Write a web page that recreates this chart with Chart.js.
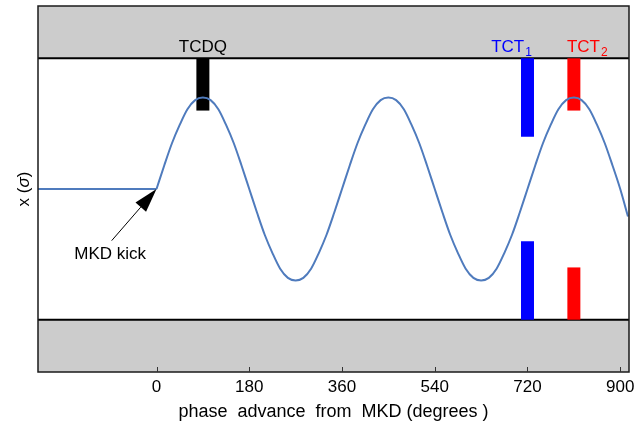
<!DOCTYPE html>
<html>
<head>
<meta charset="utf-8">
<title>Beam orbit after MKD kick</title>
<script src="https://cdn.jsdelivr.net/npm/chart.js@4.4.1/dist/chart.umd.min.js"></script>
<style>
    html, body { margin: 0; padding: 0; background: #fff; }
    #wrap { width: 644px; height: 423px; }
</style>
</head>
<body>
<div id="wrap"><canvas id="orbitChart" width="644" height="423"></canvas></div>
<script>
// Data
const xTicks = [0, 180, 360, 540, 720, 900];
const xRange = [-230, 917];
const yRange = [-14, 14];

// flat orbit before the kick
const flatPhase = [-230, 0];
const flatOrbit = [0, 0];

// oscillation after the kick (degrees, sigma)
const phase = [
    0, 15, 30, 45, 60, 75, 90, 105, 120, 135, 150, 165,
    180, 195, 210, 225, 240, 255, 270, 285, 300, 315, 330, 345,
    360, 375, 390, 405, 420, 435, 450, 465, 480, 495, 510, 525,
    540, 555, 570, 585, 600, 615, 630, 645, 660, 675, 690, 705,
    720, 735, 750, 765, 780, 795, 810, 825, 840, 855, 870, 885,
    900, 915
];
const orbit = [
    0, 1.8, 3.5, 4.9, 6.1, 6.8, 7.0, 6.8, 6.1, 4.9, 3.5, 1.8,
    0, -1.8, -3.5, -4.9, -6.1, -6.8, -7.0, -6.8, -6.1, -4.9, -3.5, -1.8,
    0, 1.8, 3.5, 4.9, 6.1, 6.8, 7.0, 6.8, 6.1, 4.9, 3.5, 1.8,
    0, -1.8, -3.5, -4.9, -6.1, -6.8, -7.0, -6.8, -6.1, -4.9, -3.5, -1.8,
    0, 1.8, 3.5, 4.9, 6.1, 6.8, 7.0, 6.8, 6.1, 4.9, 3.5, 1.8,
    0, -2.1
];

// aperture (gray bands)
const jawHalfGap = 10;

// collimators
const collNames = ['TCDQ', 'TCT', 'TCT'];
const collSubs = ['', '1', '2'];
const collPhase = [90, 720, 810];
const collUpper = [[6, 10], [4, 10], [6, 10]];
const collLower = [null, [-10, -4], [-10, -6]];
const collLabelPhase = [90, 689, 836];
const collLabelY = 10.5;

// MKD kick annotation
const kickTip = [0, 0];
const kickTail = [-87, -3.95];
const kickText = 'MKD kick';
const kickTextPos = [-90, -5.0];

const xTitle = 'phase  advance  from  MKD (degrees )';

// Styles
const FONT = '"Liberation Sans", Arial, Helvetica, sans-serif';
const orbitColor = '#4f7bbd';
const collColors = ['#000000', '#0000ff', '#ff0000'];
const bandColor = '#cccccc';

function toPoints(xs, ys) {
    return xs.map((v, i) => ({ x: v, y: ys[i] }));
}

function buildDatasets() {
    const sets = [];
    sets.push({
        label: 'orbit',
        data: toPoints(phase, orbit),
        borderColor: orbitColor,
        borderWidth: 2,
        pointRadius: 0,
        cubicInterpolationMode: 'monotone',
        fill: false
    });
    sets.push({
        label: 'orbit before kick',
        data: toPoints(flatPhase, flatOrbit),
        borderColor: orbitColor,
        borderWidth: 2,
        pointRadius: 0,
        fill: false
    });
    collNames.forEach((name, i) => {
        [collUpper[i], collLower[i]].forEach(span => {
            if (!span) return;
            sets.push({
                label: name + collSubs[i],
                data: [{ x: collPhase[i], y: span[0] }, { x: collPhase[i], y: span[1] }],
                borderColor: collColors[i],
                borderWidth: 13,
                borderCapStyle: 'butt',
                pointRadius: 0,
                fill: false
            });
        });
    });
    sets.push({
        label: 'upper jaw',
        data: [{ x: xRange[0], y: jawHalfGap }, { x: xRange[1], y: jawHalfGap }],
        borderColor: '#000',
        borderWidth: 2,
        backgroundColor: bandColor,
        pointRadius: 0,
        fill: 'end'
    });
    sets.push({
        label: 'lower jaw',
        data: [{ x: xRange[0], y: -jawHalfGap }, { x: xRange[1], y: -jawHalfGap }],
        borderColor: '#000',
        borderWidth: 2,
        backgroundColor: bandColor,
        pointRadius: 0,
        fill: 'start'
    });
    return sets;
}

// frame, inward ticks, labels, arrow and y title
const overlay = {
    id: 'overlay',
    afterDatasetsDraw(chart) {
        const { ctx, chartArea: a, scales: { x, y } } = chart;
        ctx.save();

        // frame
        ctx.strokeStyle = '#1a1a1a';
        ctx.lineWidth = 1.5;
        ctx.strokeRect(a.left, a.top, a.right - a.left, a.bottom - a.top);

        // tick marks pointing inward
        ctx.lineWidth = 1;
        ctx.strokeStyle = '#333';
        xTicks.forEach(v => {
            const px = Math.round(x.getPixelForValue(v)) + 0.5;
            ctx.beginPath();
            ctx.moveTo(px, a.bottom);
            ctx.lineTo(px, a.bottom - 5);
            ctx.stroke();
        });

        // collimator labels
        ctx.textBaseline = 'alphabetic';
        ctx.textAlign = 'left';
        collNames.forEach((name, i) => {
            const mainFont = '17px ' + FONT;
            const subFont = '12px ' + FONT;
            ctx.font = mainFont;
            const w1 = ctx.measureText(name).width;
            ctx.font = subFont;
            const w2 = collSubs[i] ? ctx.measureText(collSubs[i]).width + 1 : 0;
            const cx = x.getPixelForValue(collLabelPhase[i]);
            const by = y.getPixelForValue(collLabelY);
            const left = cx - (w1 + w2) / 2;
            ctx.fillStyle = collColors[i];
            ctx.font = mainFont;
            ctx.fillText(name, left, by);
            if (collSubs[i]) {
                ctx.font = subFont;
                ctx.fillText(collSubs[i], left + w1 + 1, by + 4);
            }
        });

        // MKD kick arrow
        const tx = x.getPixelForValue(kickTip[0]);
        const ty = y.getPixelForValue(kickTip[1]);
        const sx = x.getPixelForValue(kickTail[0]);
        const sy = y.getPixelForValue(kickTail[1]);
        const ang = Math.atan2(ty - sy, tx - sx);
        const headLen = 24, headHalf = 7;
        const bx = tx - headLen * Math.cos(ang);
        const byy = ty - headLen * Math.sin(ang);
        ctx.strokeStyle = '#000';
        ctx.fillStyle = '#000';
        ctx.lineWidth = 1;
        ctx.beginPath();
        ctx.moveTo(sx, sy);
        ctx.lineTo(bx, byy);
        ctx.stroke();
        ctx.beginPath();
        ctx.moveTo(tx, ty);
        ctx.lineTo(bx + headHalf * Math.sin(ang), byy - headHalf * Math.cos(ang));
        ctx.lineTo(bx - headHalf * Math.sin(ang), byy + headHalf * Math.cos(ang));
        ctx.closePath();
        ctx.fill();

        ctx.font = '17px ' + FONT;
        ctx.textAlign = 'center';
        ctx.textBaseline = 'middle';
        ctx.fillText(kickText, x.getPixelForValue(kickTextPos[0]), y.getPixelForValue(kickTextPos[1]));

        // y axis title: x (σ) with italic sigma
        const parts = [['x (', '17px ' + FONT], ['\u03c3', 'italic 17px ' + FONT], [')', '17px ' + FONT]];
        let total = 0;
        parts.forEach(p => { ctx.font = p[1]; p.push(ctx.measureText(p[0]).width); total += p[2]; });
        ctx.translate(a.left - 14, (a.top + a.bottom) / 2);
        ctx.rotate(-Math.PI / 2);
        ctx.textAlign = 'left';
        ctx.textBaseline = 'middle';
        let off = -total / 2;
        parts.forEach(p => {
            ctx.font = p[1];
            ctx.fillText(p[0], off, 0);
            off += p[2];
        });

        ctx.restore();
    }
};

function init() {
    const ctx = document.getElementById('orbitChart').getContext('2d');
    new Chart(ctx, {
        type: 'line',
        data: { datasets: buildDatasets() },
        options: {
            responsive: false,
            animation: false,
            layout: { padding: { left: 38, right: 15, top: 6, bottom: 0 } },
            plugins: {
                legend: { display: false },
                tooltip: { enabled: false }
            },
            scales: {
                x: {
                    type: 'linear',
                    min: xRange[0],
                    max: xRange[1],
                    afterBuildTicks: scale => {
                        scale.ticks = xTicks.map(v => ({ value: v }));
                    },
                    grid: { display: false, drawTicks: false },
                    border: { display: false },
                    ticks: {
                        padding: 5,
                        color: '#000',
                        maxRotation: 0,
                        font: { family: FONT, size: 17 }
                    },
                    title: {
                        display: true,
                        text: xTitle,
                        color: '#000',
                        padding: { top: -1, bottom: 0 },
                        font: { family: FONT, size: 18 }
                    }
                },
                y: {
                    type: 'linear',
                    display: false,
                    min: yRange[0],
                    max: yRange[1]
                }
            }
        },
        plugins: [overlay]
    });
}

document.addEventListener('DOMContentLoaded', init);
</script>
</body>
</html>
